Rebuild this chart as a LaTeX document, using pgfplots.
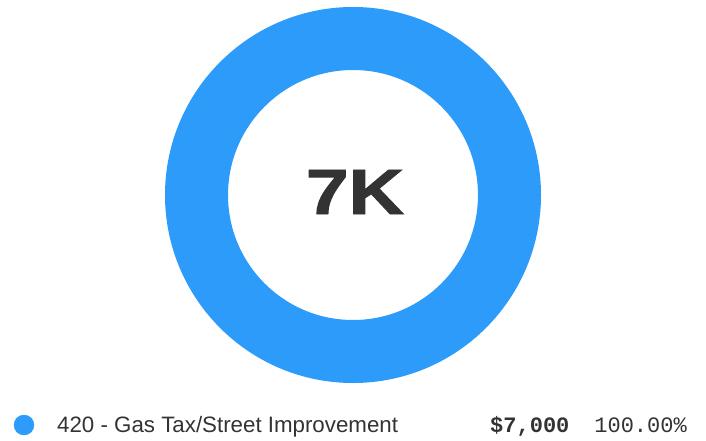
\documentclass[border=0pt]{standalone}
\usepackage{pgfplots}
\pgfplotsset{compat=1.18}
\usepackage{fontspec}
\setmainfont{Liberation Sans}
\newfontfamily\monofont{Liberation Mono}
\newfontfamily\heavyfont[FakeBold=1.5]{Liberation Sans Bold}
\definecolor{ringblue}{RGB}{44,155,250}
\definecolor{txt}{RGB}{51,51,51}

\begin{document}
\begin{tikzpicture}
\path[use as bounding box] (0,0) rectangle (706pt,440pt);
\begin{axis}[
    at={(0,0)}, anchor=south west,
    width=706pt, height=440pt, scale only axis,
    xmin=0, xmax=706, ymin=0, ymax=440,
    hide axis, clip=false,
]
% donut: one slice, 7000 of 7000 (100%)
\addplot[only marks, mark=o, mark size=156.5pt,
    mark options={draw=ringblue, line width=63pt}]
    coordinates {(353,245)};
% legend dot
\addplot[only marks, mark=*, mark size=10pt,
    mark options={fill=ringblue, draw=ringblue}]
    coordinates {(24,15)};

\node[font=\heavyfont\fontsize{64}{64}\selectfont, text=txt, xscale=1.2]
    at (axis cs:355,248) {7K};
\node[anchor=base west, inner sep=0, font=\fontsize{22.3}{22}\selectfont, text=txt]
    at (axis cs:57,8) {420 - Gas Tax/Street Improvement};
\node[anchor=base west, inner sep=0, font=\monofont\fontsize{22}{22}\selectfont\bfseries, text=txt]
    at (axis cs:490,8) {\$7,000};
\node[anchor=base east, inner sep=0, font=\monofont\fontsize{22}{22}\selectfont, text=txt]
    at (axis cs:687,8) {100.00\%};
\end{axis}
\end{tikzpicture}
\end{document}
